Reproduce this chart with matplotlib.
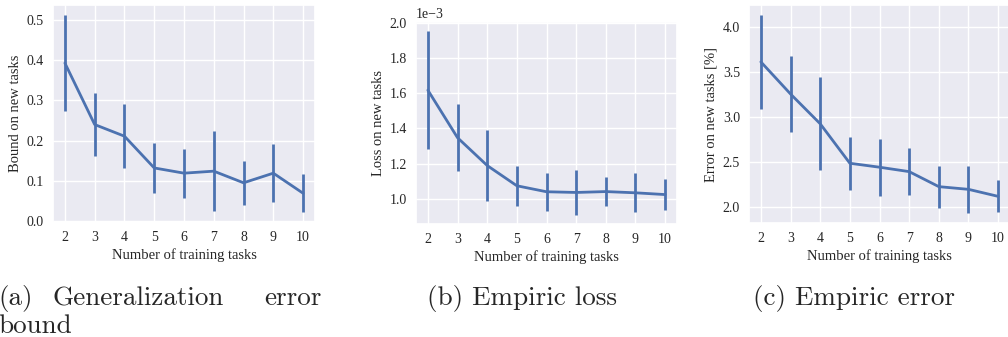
import matplotlib
matplotlib.use("Agg")
import matplotlib.pyplot as plt
import seaborn as sns

# number of training tasks (x axis, shared)
n_tasks = [2, 3, 4, 5, 6, 7, 8, 9, 10]

# (a) generalization error bound
bound_mean = [0.393, 0.240, 0.211, 0.132, 0.119, 0.124, 0.095, 0.119, 0.069]
bound_std = [0.120, 0.078, 0.079, 0.062, 0.061, 0.100, 0.054, 0.073, 0.047]

# (b) empiric loss
loss_mean = [1.617e-3, 1.347e-3, 1.189e-3, 1.074e-3, 1.040e-3, 1.036e-3, 1.041e-3, 1.034e-3, 1.024e-3]
loss_std = [0.335e-3, 0.190e-3, 0.200e-3, 0.115e-3, 0.107e-3, 0.127e-3, 0.083e-3, 0.110e-3, 0.090e-3]

# (c) empiric error [%]
err_mean = [3.610, 3.253, 2.922, 2.483, 2.439, 2.390, 2.223, 2.193, 2.115]
err_std = [0.522, 0.422, 0.516, 0.295, 0.316, 0.257, 0.233, 0.264, 0.177]

y_labels = ["Bound on new tasks", "Loss on new tasks", "Error on new tasks [%]"]
x_label = "Number of training tasks"

sns.set_theme(style="darkgrid")
plt.rcParams["font.family"] = ["Liberation Serif", "DejaVu Serif"]
plt.rcParams["axes.unicode_minus"] = True

color = "#4c72b0"
W, H = 1008, 337
fig = plt.figure(figsize=(W / 100, H / 100), dpi=100)


def px_axes(left, top, right, bottom):
    """Add axes from pixel box."""
    return fig.add_axes([left / W, 1 - bottom / H, (right - left) / W, (bottom - top) / H])


boxes = [(53, 5, 315, 222), (416, 22, 677, 224), (749, 5, 1010, 223)]
series = [(bound_mean, bound_std), (loss_mean, loss_std), (err_mean, err_std)]

axes = []
for box, (mean, std), ylab in zip(boxes, series, y_labels):
    ax = px_axes(*box)
    ax.errorbar(n_tasks, mean, yerr=std, color=color, lw=2, elinewidth=2, capsize=0)
    ax.set_xticks(n_tasks)
    ax.set_xlabel(x_label, fontsize=10.5, labelpad=3)
    ax.set_ylabel(ylab, fontsize=10.5, labelpad=3.5)
    ax.tick_params(labelsize=10, pad=6.5, length=0)
    axes.append(ax)

axes[1].ticklabel_format(axis="y", style="sci", scilimits=(-3, -3))
axes[1].yaxis.get_offset_text().set_fontsize(10)

cap = dict(fontsize=19.5, family="cmr10", va="baseline", ha="left")
fig.text(-2 / W, 1 - 305 / H, "(a)", **cap)
fig.text(53 / W, 1 - 305 / H, "Generalization", **cap)
fig.text(322 / W, 1 - 305 / H, "error", **dict(cap, ha="right"))
fig.text(-2 / W, 1 - 333 / H, "bound", **cap)
fig.text(427 / W, 1 - 305 / H, "(b) Empiric loss", **cap)
fig.text(753 / W, 1 - 305 / H, "(c) Empiric error", **cap)

fig.savefig("out.png", dpi=100)
